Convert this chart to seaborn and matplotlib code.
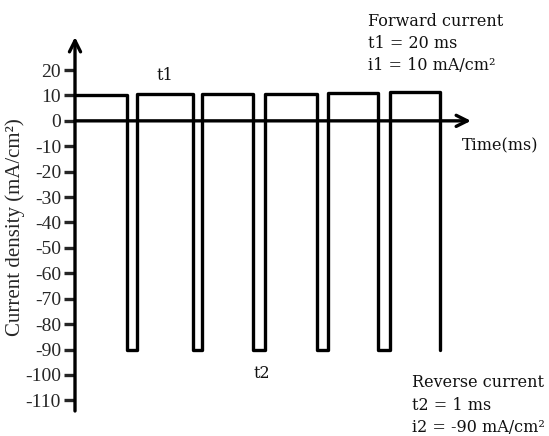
import numpy as np
import pandas as pd
import matplotlib
matplotlib.use("Agg")
import matplotlib.pyplot as plt
import seaborn as sns

# Pulse waveform (drawn positions along time axis, arbitrary units)
drop_times = [52, 118, 178, 242, 303, 365]
rise_times = [62, 127, 190, 253, 315]
high_levels = [10, 10.4, 10.6, 10.6, 10.9, 11.5]
low_level = -90

y_ticks = list(range(-110, 21, 10))

# build step path from the arrays
xs, ys = [0], [high_levels[0]]
for i, d in enumerate(drop_times):
    xs += [d, d]
    ys += [high_levels[i], low_level]
    if i < len(rise_times):
        xs += [rise_times[i], rise_times[i]]
        ys += [low_level, high_levels[i + 1]]
df = pd.DataFrame({"t": xs, "i": ys})

sns.set_style("white")
plt.rcParams['font.family'] = ['Liberation Serif', 'DejaVu Serif']
plt.rcParams['axes.unicode_minus'] = False

fig = plt.figure(figsize=(5.49, 4.36), dpi=100)
ax = fig.add_axes([75 / 549, 25 / 436, 400 / 549, 374 / 436])

sns.lineplot(data=df, x="t", y="i", estimator=None, sort=False,
             color="black", lw=2.4, ax=ax)

ax.set_xlim(0, 400)
ax.set_ylim(-114.2, 33)
for s in ax.spines.values():
    s.set_visible(False)

# axes with arrows
ax.annotate("", xy=(0, 33), xytext=(0, -114.2),
            arrowprops=dict(arrowstyle="->", lw=2.4, color="black",
                            mutation_scale=20, shrinkA=0, shrinkB=0))
ax.annotate("", xy=(396, 0), xytext=(0, 0),
            arrowprops=dict(arrowstyle="->", lw=2.4, color="black",
                            mutation_scale=20, shrinkA=0, shrinkB=0))

ax.set_xticks([])
ax.set_yticks(y_ticks)
ax.tick_params(axis="y", direction="out", length=8, width=2.4,
               labelsize=14, pad=2, left=True)
ax.set_xlabel("")
ax.set_ylabel("Current density (mA/cm²)", fontsize=15)
ax.yaxis.set_label_coords(-0.125, 0.492)

txt = dict(fontsize=11.5, family=['DejaVu Serif'], va="center", ha="left",
           color="#111111")
fig.text(368 / 549, 1 - 21 / 436, "Forward current", **txt)
fig.text(368 / 549, 1 - 43 / 436, "t1 = 20 ms", **txt)
fig.text(368 / 549, 1 - 65 / 436, "i1 = 10 mA/cm²", **txt)
fig.text(462 / 549, 1 - 146 / 436, "Time(ms)", **txt)
fig.text(157 / 549, 1 - 75 / 436, "t1", **txt)
fig.text(254 / 549, 1 - 373 / 436, "t2", **txt)
fig.text(412 / 549, 1 - 382 / 436, "Reverse current", **txt)
fig.text(412 / 549, 1 - 405 / 436, "t2 = 1 ms", **txt)
fig.text(412 / 549, 1 - 427 / 436, "i2 = -90 mA/cm²", **txt)

fig.savefig("out.png", dpi=100)
